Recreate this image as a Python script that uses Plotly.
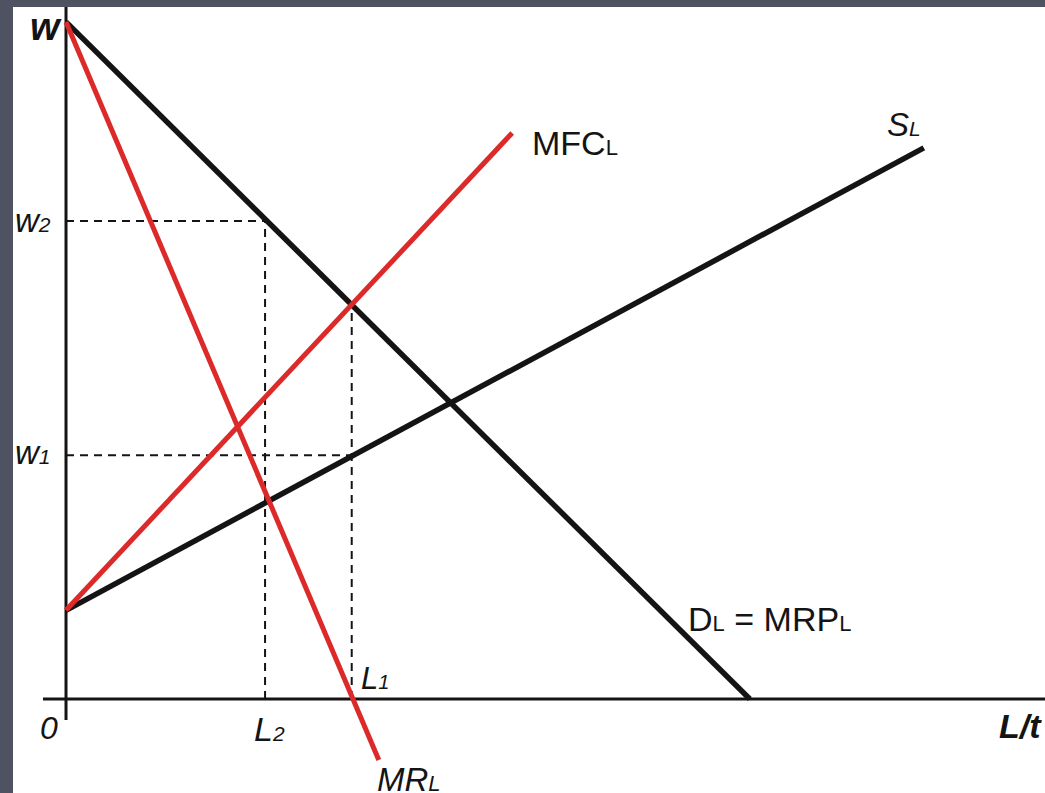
import plotly.graph_objects as go

# values (labour units on x, wage on y)
w_top = 100.0          # vertical intercept of D and MR
d_end = 101.0          # D = MRP hits the L axis
mr_end = [46.2, -9.0]  # MR line runs below the axis
s_start = 13.1         # S and MFC start on the w axis
s_end = [126.7, 81.4]
mfc_end = [65.9, 83.6]
L2, w2 = 29.4, 70.6
L1, w1 = 42.2, 36.0
mfc_at_L1 = 58.2

x_range = [-7.83, 144.6]
y_range = [-13.88, 102.2]

black = "#141414"
red = "#dc2a2a"
font = "Arial, Liberation Sans, sans-serif"

fig = go.Figure()


def line(x, y, color, width, dash=None):
    fig.add_trace(go.Scatter(x=x, y=y, mode="lines", hoverinfo="skip",
                             line=dict(color=color, width=width, dash=dash)))


# axes
line([-3.4, x_range[1]], [0, 0], black, 3)
line([0, 0], [-3.1, y_range[1]], black, 3)

# dashed guides
dash = "8px,6px"
line([0, L2], [w2, w2], black, 2, dash)
line([L2, L2], [0, w2], black, 2, dash)
line([0, L1], [w1, w1], black, 2, dash)
line([L1, L1], [0, mfc_at_L1], black, 2, dash)

# curves
line([0, s_end[0]], [s_start, s_end[1]], black, 5.5)
line([0, d_end], [w_top, 0], black, 5.5)
line([0, mfc_end[0]], [s_start, mfc_end[1]], red, 5)
line([0, mr_end[0]], [w_top, mr_end[1]], red, 5)


def sub(t, size):
    return f'<span style="font-size:{size}px">{t}</span>'


labels = [
    ("<b><i>w</i></b>", -0.3, 99.3, "right", 38),
    ("<i>w" + sub("2", 21) + "</i>", -7.8, 70.6, "left", 33),
    ("<i>w" + sub("1", 21) + "</i>", -7.8, 36.4, "left", 33),
    ("<i>0</i>", -2.5, -4.3, "center", 32),
    ("<i>L" + sub("2", 21) + "</i>", 27.5, -4.4, "left", 34),
    ("<i>L" + sub("1", 20) + "</i>", 43.3, 3.0, "left", 31),
    ("<i>MR" + sub("L", 22) + "</i>", 45.6, -11.9, "left", 33),
    ("MFC" + sub("L", 22), 68.5, 82.1, "left", 34),
    ("<i>S" + sub("L", 21) + "</i>", 120.9, 84.8, "left", 33),
    ("D" + sub("L", 22) + " = MRP" + sub("L", 22), 91.5, 11.8, "left", 34),
    ("<b><i>L/t</i></b>", 144.4, -4.0, "right", 34),
]
for text, x, y, anchor, size in labels:
    fig.add_annotation(x=x, y=y, text=text, showarrow=False, xanchor=anchor,
                       yanchor="middle", font=dict(family=font, size=size, color=black))

fig.update_layout(
    width=1045, height=793,
    margin=dict(l=13, r=0, t=7, b=0),
    paper_bgcolor="#4f5261",
    plot_bgcolor="white",
    showlegend=False,
    xaxis=dict(range=x_range, visible=False, fixedrange=True),
    yaxis=dict(range=y_range, visible=False, fixedrange=True),
)

fig.write_html("out.html", config={"displayModeBar": False},
               post_script="document.body.style.margin='0';"
                           "document.body.style.overflow='hidden';")
